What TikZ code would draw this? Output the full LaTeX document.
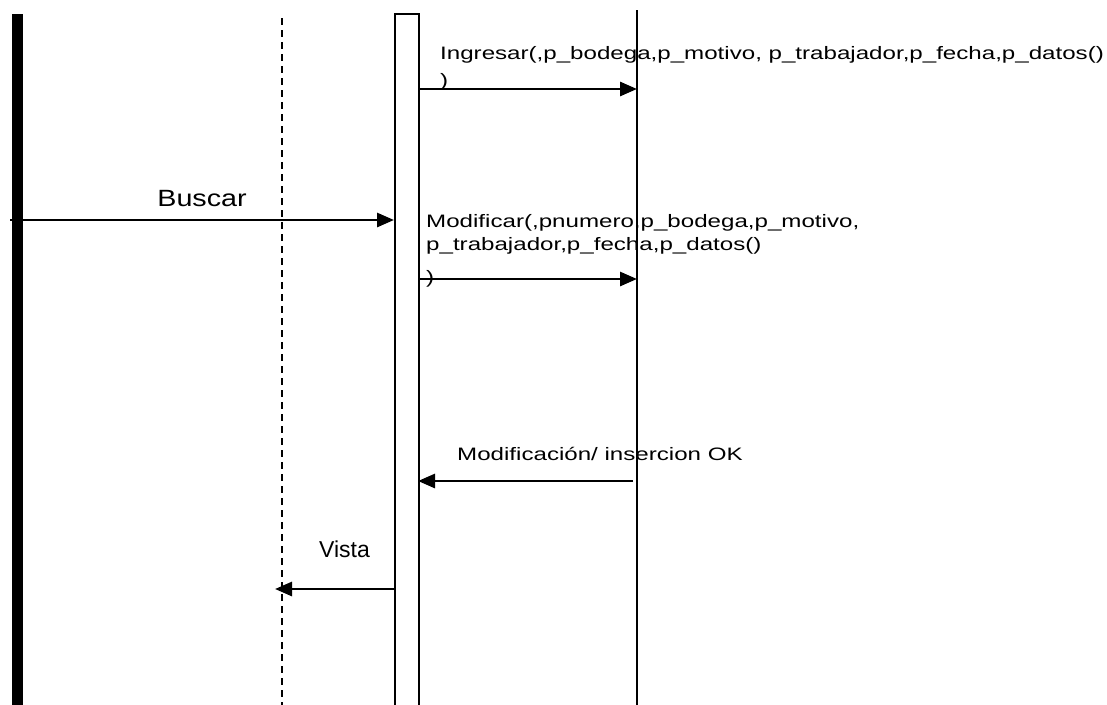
\documentclass[tikz,border=0pt]{standalone}
\usepackage{fontspec}
\setmainfont{Liberation Sans}
\newfontfamily\msgfont{Liberation Sans}[FakeStretch=1.34]
\newfontfamily\bigmsgfont{Liberation Sans}[FakeStretch=1.22]
\usetikzlibrary{arrows.meta}
\tikzset{
  msg/.style={line width=2.8pt, -{Triangle[length=17pt,width=14pt]}},
  lifeline/.style={line width=2pt},
  lbl/.style={inner sep=0pt, anchor=base west, align=left,
    font=\msgfont\fontsize{18}{23}\selectfont},
}

\begin{document}
\begin{tikzpicture}[x=1pt,y=-1pt]
    \useasboundingbox (0,0) rectangle (1107,704);
    % lifelines
    \fill (12,14) rectangle (23,712);
    \draw[lifeline, dash pattern=on 7pt off 5pt] (282,18) -- (282,712);
    \draw[lifeline] (395,14) rectangle (419,712);
    \draw[lifeline] (637,10) -- (637,712);
    % message ends
    \coordinate (ingFrom) at (420,89);
    \coordinate (ingTo) at (637,89);
    \coordinate (busFrom) at (10,220);
    \coordinate (busTo) at (394,220);
    \coordinate (modFrom) at (420,279);
    \coordinate (modTo) at (637,279);
    \coordinate (okFrom) at (633,481);
    \coordinate (okTo) at (418,481);
    \coordinate (vistaFrom) at (394,589);
    \coordinate (vistaTo) at (275,589);
    % messages
    \draw[msg] (ingFrom) -- (ingTo);
    \draw[msg] (busFrom) -- (busTo);
    \draw[msg] (modFrom) -- (modTo);
    \draw[msg] (okFrom) -- (okTo);
    \draw[msg] (vistaFrom) -- (vistaTo);
    % labels (base = last line)
    \node[lbl] (ingLbl) at (440,86)
        {Ingresar(,p\_bodega,p\_motivo, p\_trabajador,p\_fecha,p\_datos()\\[4pt])};
    \node[inner sep=0pt, anchor=base, font=\bigmsgfont\fontsize{23.5}{28}\selectfont]
        (busLbl) at (202,206) {Buscar};
    \node[lbl] (modLbl) at (426,283)
        {Modificar(,pnumero,p\_bodega,p\_motivo,\\p\_trabajador,p\_fecha,p\_datos()\\[10pt])};
    \node[lbl] (okLbl) at (457,460) {Modificación/ insercion OK};
    \node[inner sep=0pt, anchor=base west, font=\fontsize{23}{28}\selectfont]
        (vistaLbl) at (319,557) {Vista};
\end{tikzpicture}
\end{document}
